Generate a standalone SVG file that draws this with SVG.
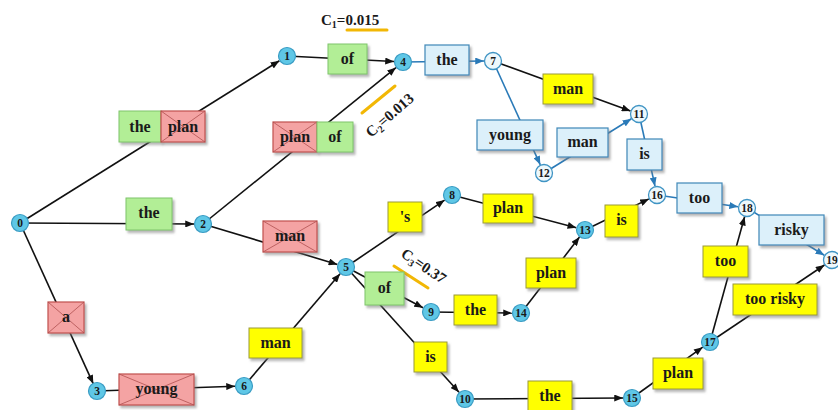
<svg xmlns="http://www.w3.org/2000/svg" width="838" height="410" viewBox="0 0 838 410">
<defs>
<filter id="sh" x="-20%" y="-20%" width="150%" height="160%">
<feDropShadow dx="2" dy="2.5" stdDeviation="1.2" flood-color="#777" flood-opacity="0.55"/>
</filter>
<marker id="ak" viewBox="0 0 10 8" refX="10" refY="4" markerWidth="9" markerHeight="7" markerUnits="userSpaceOnUse" orient="auto"><path d="M0,0 L10,4 L0,8 z" fill="#111"/></marker>
<marker id="ab" viewBox="0 0 10 8" refX="10" refY="4" markerWidth="9" markerHeight="7" markerUnits="userSpaceOnUse" orient="auto"><path d="M0,0 L10,4 L0,8 z" fill="#2a7ab8"/></marker>
</defs>
<style>
.k{stroke:#111;stroke-width:1.6;fill:none;marker-end:url(#ak)}
.bl{stroke:#2a7ab8;stroke-width:1.6;fill:none;marker-end:url(#ab)}
.g{fill:#b2ee96;stroke:#7fc46a;stroke-width:1;filter:url(#sh)}
.r{fill:#f4a3a3;stroke:#c0504d;stroke-width:1.2;filter:url(#sh)}
.x{stroke:#b05050;stroke-width:0.8;fill:none}
.y{fill:#ffff00;stroke:#9a9a3a;stroke-width:1;filter:url(#sh)}
.b{fill:#dcf0fa;stroke:#3f88b8;stroke-width:1.2;filter:url(#sh)}
.n{fill:#5fc7e6;stroke:#3a9cc4;stroke-width:1.2}
.w{fill:#eef8fc;stroke:#3f94c4;stroke-width:1.3}
.t{font-family:"Liberation Serif","DejaVu Serif",serif;font-weight:bold;font-size:16px;fill:#1a1a1a;text-anchor:middle}
.nm{font-family:"Liberation Serif","DejaVu Serif",serif;font-weight:bold;font-size:11.5px;fill:#1a1a1a;text-anchor:middle}
.c{font-family:"Liberation Serif","DejaVu Serif",serif;font-weight:bold;font-size:15px;fill:#1a1a1a}
.cl{stroke:#f2b705;stroke-width:3;stroke-linecap:round}
</style>
<rect width="838" height="410" fill="#ffffff"/>
<g id="connectors">
<line class="k" x1="20" y1="223" x2="279.4" y2="60.8"/>
<line class="k" x1="287" y1="56" x2="394" y2="61.5"/>
<line class="k" x1="203" y1="224" x2="396" y2="67.6"/>
<line class="k" x1="20" y1="223" x2="194" y2="224"/>
<line class="k" x1="203" y1="224" x2="337.4" y2="264.4"/>
<line class="k" x1="20" y1="223" x2="93.3" y2="383.8"/>
<line class="k" x1="97" y1="391" x2="235" y2="386.3"/>
<line class="k" x1="244" y1="386" x2="340.1" y2="273.8"/>
<line class="k" x1="346" y1="267" x2="444.6" y2="200.1"/>
<line class="k" x1="452" y1="195" x2="576.3" y2="227.7"/>
<line class="k" x1="346" y1="267" x2="423" y2="307.8"/>
<line class="k" x1="346" y1="267" x2="459" y2="392.3"/>
<line class="k" x1="431" y1="312" x2="512" y2="313"/>
<line class="k" x1="521" y1="313" x2="579.5" y2="237.1"/>
<line class="k" x1="585" y1="230" x2="648.9" y2="198.9"/>
<line class="k" x1="465" y1="399" x2="623" y2="398"/>
<line class="k" x1="632" y1="398" x2="702.7" y2="347.2"/>
<line class="k" x1="710" y1="342" x2="744.6" y2="216.7"/>
<line class="k" x1="710" y1="342" x2="824.5" y2="265"/>
<line class="k" x1="493" y1="61" x2="630.5" y2="110.9"/>
<line class="bl" x1="403" y1="62" x2="484" y2="61"/>
<line class="bl" x1="493" y1="61" x2="540.3" y2="164.8"/>
<line class="bl" x1="544" y1="173" x2="631.4" y2="118.8"/>
<line class="bl" x1="639" y1="114" x2="655" y2="186.2"/>
<line class="bl" x1="657" y1="195" x2="738.1" y2="206.7"/>
<line class="bl" x1="747" y1="208" x2="824.3" y2="255.3"/>
</g>
<g id="annotations">
<text class="c" x="321" y="25">C<tspan font-size="10" dy="3">1</tspan><tspan dy="-3">=0.015</tspan></text>
<line class="cl" x1="347" y1="30" x2="387" y2="30"/>
<text class="c" transform="translate(371,138) rotate(-41)">C<tspan font-size="10" dy="3">2</tspan><tspan dy="-3">=0.013</tspan></text>
<line class="cl" x1="362" y1="113" x2="395" y2="86"/>
<text class="c" transform="translate(400,256) rotate(34)">C<tspan font-size="10" dy="3">3</tspan><tspan dy="-3">=0.37</tspan></text>
<line class="cl" x1="394" y1="266" x2="428" y2="288"/>
</g>
<g id="box-the-plan">
<rect class="g" x="119" y="111" width="42" height="31"/>
<rect class="r" x="161" y="111" width="44" height="31"/>
<path class="x" d="M161,111 L205,142 M205,111 L161,142"/>
<text class="t" x="140" y="132">the</text>
<text class="t" x="183" y="132">plan</text>
</g>
<g id="box-of-1"><rect class="g" x="328" y="44" width="39" height="30"/><text class="t" x="347.5" y="64">of</text></g>
<g id="box-plan-of">
<rect class="r" x="273" y="122" width="44" height="30"/>
<path class="x" d="M273,122 L317,152 M317,122 L273,152"/>
<rect class="g" x="317" y="122" width="36" height="30"/>
<text class="t" x="295" y="142">plan</text>
<text class="t" x="335" y="142">of</text>
</g>
<g id="box-the-0"><rect class="g" x="126" y="198" width="46" height="32"/><text class="t" x="149" y="218">the</text></g>
<g id="box-man-x"><rect class="r" x="263" y="221" width="54" height="31"/><path class="x" d="M263,221 L317,252 M317,221 L263,252"/><text class="t" x="290" y="241">man</text></g>
<g id="box-a"><rect class="r" x="48" y="302" width="36" height="31"/><path class="x" d="M48,302 L84,333 M84,302 L48,333"/><text class="t" x="66" y="322">a</text></g>
<g id="box-young-x"><rect class="r" x="119" y="374" width="75" height="31"/><path class="x" d="M119,374 L194,405 M194,374 L119,405"/><text class="t" x="156.5" y="394">young</text></g>
<g id="box-man-6"><rect class="y" x="249" y="328" width="53" height="30"/><text class="t" x="275.5" y="348">man</text></g>
<g id="box-s"><rect class="y" x="388" y="202" width="34" height="30"/><text class="t" x="405" y="222">'s</text></g>
<g id="box-plan-8"><rect class="y" x="483" y="194" width="50" height="29"/><text class="t" x="508" y="213">plan</text></g>
<g id="box-of-5"><rect class="g" x="365" y="272" width="39" height="33"/><text class="t" x="384.5" y="293">of</text></g>
<g id="box-the-9"><rect class="y" x="454" y="295" width="43" height="30"/><text class="t" x="475.5" y="315">the</text></g>
<g id="box-is-5"><rect class="y" x="414" y="342" width="33" height="30"/><text class="t" x="430.5" y="362">is</text></g>
<g id="box-the-10"><rect class="y" x="528" y="381" width="44" height="30"/><text class="t" x="550" y="401">the</text></g>
<g id="box-plan-14"><rect class="y" x="526" y="258" width="50" height="30"/><text class="t" x="551" y="278">plan</text></g>
<g id="box-is-13"><rect class="y" x="605" y="205" width="33" height="32"/><text class="t" x="621.5" y="225">is</text></g>
<g id="box-plan-15"><rect class="y" x="653" y="358" width="50" height="31"/><text class="t" x="678" y="378">plan</text></g>
<g id="box-too-17"><rect class="y" x="703" y="246" width="45" height="31"/><text class="t" x="725.5" y="266">too</text></g>
<g id="box-too-risky"><rect class="y" x="733" y="284" width="84" height="31"/><text class="t" x="775" y="304">too risky</text></g>
<g id="box-man-7"><rect class="y" x="543" y="74" width="50" height="30"/><text class="t" x="568" y="94">man</text></g>
<g id="box-the-4"><rect class="b" x="425" y="45" width="44" height="30"/><text class="t" x="447" y="65">the</text></g>
<g id="box-young-7"><rect class="b" x="477" y="120" width="66" height="30"/><text class="t" x="510" y="140">young</text></g>
<g id="box-man-12"><rect class="b" x="557" y="128" width="51" height="29"/><text class="t" x="582.5" y="147">man</text></g>
<g id="box-is-11"><rect class="b" x="627" y="139" width="35" height="31"/><text class="t" x="644.5" y="159">is</text></g>
<g id="box-too-16"><rect class="b" x="677" y="183" width="45" height="30"/><text class="t" x="699.5" y="203">too</text></g>
<g id="box-risky"><rect class="b" x="759" y="215" width="65" height="30"/><text class="t" x="791.5" y="235">risky</text></g>
<g id="n0"><circle class="n" cx="20" cy="223" r="8.5"/><text class="nm" x="20" y="227">0</text></g>
<g id="n1"><circle class="n" cx="287" cy="56" r="8.5"/><text class="nm" x="287" y="60">1</text></g>
<g id="n2"><circle class="n" cx="203" cy="224" r="8.5"/><text class="nm" x="203" y="228">2</text></g>
<g id="n3"><circle class="n" cx="97" cy="391" r="8.5"/><text class="nm" x="97" y="395">3</text></g>
<g id="n4"><circle class="n" cx="403" cy="62" r="8.5"/><text class="nm" x="403" y="66">4</text></g>
<g id="n5"><circle class="n" cx="346" cy="267" r="8.5"/><text class="nm" x="346" y="271">5</text></g>
<g id="n6"><circle class="n" cx="244" cy="386" r="8.5"/><text class="nm" x="244" y="390">6</text></g>
<g id="n7"><circle class="w" cx="493" cy="61" r="8.5"/><text class="nm" x="493" y="65">7</text></g>
<g id="n8"><circle class="n" cx="452" cy="195" r="8.5"/><text class="nm" x="452" y="199">8</text></g>
<g id="n9"><circle class="n" cx="431" cy="312" r="8.5"/><text class="nm" x="431" y="316">9</text></g>
<g id="n10"><circle class="n" cx="465" cy="399" r="8.5"/><text class="nm" x="465" y="403">10</text></g>
<g id="n11"><circle class="w" cx="639" cy="114" r="8.5"/><text class="nm" x="639" y="118">11</text></g>
<g id="n12"><circle class="w" cx="544" cy="173" r="8.5"/><text class="nm" x="544" y="177">12</text></g>
<g id="n13"><circle class="n" cx="585" cy="230" r="8.5"/><text class="nm" x="585" y="234">13</text></g>
<g id="n14"><circle class="n" cx="521" cy="313" r="8.5"/><text class="nm" x="521" y="317">14</text></g>
<g id="n15"><circle class="n" cx="632" cy="398" r="8.5"/><text class="nm" x="632" y="402">15</text></g>
<g id="n16"><circle class="w" cx="657" cy="195" r="8.5"/><text class="nm" x="657" y="199">16</text></g>
<g id="n17"><circle class="n" cx="710" cy="342" r="8.5"/><text class="nm" x="710" y="346">17</text></g>
<g id="n18"><circle class="w" cx="747" cy="208" r="8.5"/><text class="nm" x="747" y="212">18</text></g>
<g id="n19"><circle class="w" cx="832" cy="260" r="8.5"/><text class="nm" x="832" y="264">19</text></g>
</svg>
